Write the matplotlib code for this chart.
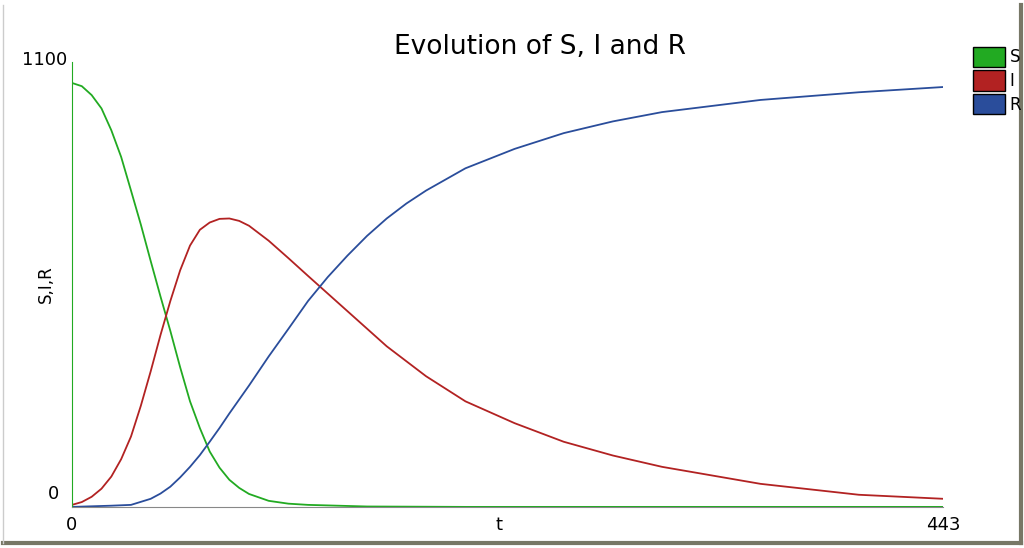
import matplotlib.pyplot as plt
from matplotlib.patches import Patch

# values
t_s = [0, 5, 10, 15, 20, 25, 30, 35, 40, 45, 50, 55, 60, 65, 70, 75, 80, 85, 90, 100, 110, 120, 150, 200, 443]
S = [1048, 1040, 1018, 985, 931, 865, 782, 698, 608, 520, 435, 345, 261, 195, 137, 97, 67, 47, 32, 15, 8, 5, 1, 0, 0]
t_i = [0, 5, 10, 15, 20, 25, 30, 35, 40, 45, 50, 55, 60, 65, 70, 75, 80, 85, 90, 100, 110, 120, 140, 160,
       180, 200, 225, 250, 275, 300, 350, 400, 443]
I = [5, 12, 25, 45, 75, 118, 174, 250, 335, 425, 509, 585, 646, 685, 703, 712, 713, 707, 695, 658, 615, 571,
     484, 397, 323, 261, 207, 161, 127, 99, 57, 30, 20]
t_r = [0, 20, 30, 40, 45, 50, 55, 60, 65, 70, 75, 80, 90, 100, 110, 120, 130, 140, 150, 160, 170, 180, 200,
       225, 250, 275, 300, 350, 400, 443]
R = [0, 3, 5, 20, 33, 50, 73, 99, 128, 161, 195, 231, 300, 372, 440, 509, 568, 621, 670, 713, 750, 782, 837,
     885, 924, 953, 976, 1006, 1025, 1038]

cols = ['#22aa22', '#b22222', '#2a4d9b']

fig = plt.figure(figsize=(10.24, 5.48), dpi=100)
ax = fig.add_axes([0.0703, 0.075, 0.851, 0.812])
ax.plot(t_s, S, color=cols[0], lw=1.3)
ax.plot(t_i, I, color=cols[1], lw=1.3)
ax.plot(t_r, R, color=cols[2], lw=1.3)
ax.set_xlim(0, 443)
ax.set_ylim(0, 1100)
for s in ['top', 'right']:
    ax.spines[s].set_visible(False)
ax.spines['left'].set_color('#22aa22')
ax.spines['bottom'].set_color('#888888')
ax.set_xticks([])
ax.set_yticks([])
fs = 13
ax.text(0, -0.02, '0', transform=ax.transAxes, ha='center', va='top', fontsize=fs)
ax.text(1, -0.02, '443', transform=ax.transAxes, ha='center', va='top', fontsize=fs)
ax.text(0.49, -0.02, 't', transform=ax.transAxes, ha='center', va='top', fontsize=fs)
ax.text(-0.015, 0.03, '0', transform=ax.transAxes, ha='right', va='center', fontsize=fs)
ax.text(-0.005, 1.005, '1100', transform=ax.transAxes, ha='right', va='center', fontsize=fs)
ax.text(-0.03, 0.5, 'S,I,R', transform=ax.transAxes, ha='center', va='center',
        rotation=90, fontsize=12)
fig.text(0.527, 0.915, 'Evolution of S, I and R', ha='center', va='center', fontsize=19)

handles = [Patch(facecolor=c, edgecolor='black', label=l) for c, l in zip(cols, ['S', 'I', 'R'])]
fig.legend(handles=handles, loc='upper left', bbox_to_anchor=(0.942, 0.93),
           frameon=False, fontsize=12, handlelength=1.9, handleheight=1.5,
           handletextpad=0.3, labelspacing=0.2, borderpad=0)

# grey frame around the picture
fig.add_artist(plt.Line2D([0.003, 0.997], [0.01, 0.01], color='#777766', lw=3, transform=fig.transFigure))
fig.add_artist(plt.Line2D([0.997, 0.997], [0.01, 0.99], color='#777766', lw=3, transform=fig.transFigure))
fig.add_artist(plt.Line2D([0.003, 0.003], [0.01, 0.99], color='#cccccc', lw=1, transform=fig.transFigure))

fig.savefig('out.png', dpi=100)
